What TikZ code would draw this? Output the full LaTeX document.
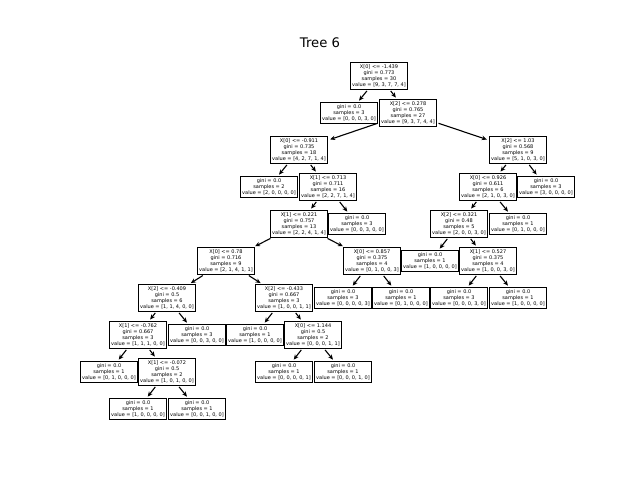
\documentclass[tikz,border=0pt]{standalone}
\usepackage{fontspec}
\setmainfont{DejaVu Sans}
\usetikzlibrary{arrows.meta}

\begin{document}
\begin{tikzpicture}[x=0.72pt, y=-0.72pt,
    split/.style={rectangle, draw=black, fill=white, line width=0.9pt, align=center, inner sep=1.3pt, font=\fontsize{3.6}{4.4}\selectfont},
    >={Stealth[length=3.6pt, width=3.2pt]}]
    \useasboundingbox (0, 0) rectangle (640, 480);
    \node[font=\fontsize{9.5}{11}\selectfont] (title) at (320, 43) {Tree 6};

    \node[split] (n0) at (379, 76) {X[0] <= -1.439\\gini = 0.773\\samples = 30\\value = [9, 3, 7, 7, 4]};
    \node[split] (n1) at (349, 113) {gini = 0.0\\samples = 3\\value = [0, 0, 0, 3, 0]};
    \node[split] (n2) at (408, 113) {X[2] <= 0.278\\gini = 0.765\\samples = 27\\value = [9, 3, 7, 4, 4]};
    \node[split] (n3) at (299, 150) {X[0] <= -0.911\\gini = 0.735\\samples = 18\\value = [4, 2, 7, 1, 4]};
    \node[split] (n4) at (269, 187) {gini = 0.0\\samples = 2\\value = [2, 0, 0, 0, 0]};
    \node[split] (n5) at (328, 187) {X[1] <= 0.713\\gini = 0.711\\samples = 16\\value = [2, 2, 7, 1, 4]};
    \node[split] (n6) at (299, 224) {X[1] <= 0.221\\gini = 0.757\\samples = 13\\value = [2, 2, 4, 1, 4]};
    \node[split] (n7) at (226, 261) {X[0] <= 0.78\\gini = 0.716\\samples = 9\\value = [2, 1, 4, 1, 1]};
    \node[split] (n8) at (167, 298) {X[2] <= -0.409\\gini = 0.5\\samples = 6\\value = [1, 1, 4, 0, 0]};
    \node[split] (n9) at (138, 335) {X[1] <= -0.762\\gini = 0.667\\samples = 3\\value = [1, 1, 1, 0, 0]};
    \node[split] (n10) at (109, 372) {gini = 0.0\\samples = 1\\value = [0, 1, 0, 0, 0]};
    \node[split] (n11) at (167, 372) {X[1] <= -0.072\\gini = 0.5\\samples = 2\\value = [1, 0, 1, 0, 0]};
    \node[split] (n12) at (138, 409) {gini = 0.0\\samples = 1\\value = [1, 0, 0, 0, 0]};
    \node[split] (n13) at (197, 409) {gini = 0.0\\samples = 1\\value = [0, 0, 1, 0, 0]};
    \node[split] (n14) at (197, 335) {gini = 0.0\\samples = 3\\value = [0, 0, 3, 0, 0]};
    \node[split] (n15) at (284, 298) {X[2] <= -0.433\\gini = 0.667\\samples = 3\\value = [1, 0, 0, 1, 1]};
    \node[split] (n16) at (255, 335) {gini = 0.0\\samples = 1\\value = [1, 0, 0, 0, 0]};
    \node[split] (n17) at (313, 335) {X[0] <= 1.144\\gini = 0.5\\samples = 2\\value = [0, 0, 0, 1, 1]};
    \node[split] (n18) at (284, 372) {gini = 0.0\\samples = 1\\value = [0, 0, 0, 0, 1]};
    \node[split] (n19) at (343, 372) {gini = 0.0\\samples = 1\\value = [0, 0, 0, 1, 0]};
    \node[split] (n20) at (372, 261) {X[0] <= 0.857\\gini = 0.375\\samples = 4\\value = [0, 1, 0, 0, 3]};
    \node[split] (n21) at (343, 298) {gini = 0.0\\samples = 3\\value = [0, 0, 0, 0, 3]};
    \node[split] (n22) at (401, 298) {gini = 0.0\\samples = 1\\value = [0, 1, 0, 0, 0]};
    \node[split] (n23) at (357, 224) {gini = 0.0\\samples = 3\\value = [0, 0, 3, 0, 0]};
    \node[split] (n24) at (518, 150) {X[2] <= 1.03\\gini = 0.568\\samples = 9\\value = [5, 1, 0, 3, 0]};
    \node[split] (n25) at (488, 187) {X[0] <= 0.926\\gini = 0.611\\samples = 6\\value = [2, 1, 0, 3, 0]};
    \node[split] (n26) at (459, 224) {X[2] <= 0.321\\gini = 0.48\\samples = 5\\value = [2, 0, 0, 3, 0]};
    \node[split] (n27) at (430, 261) {gini = 0.0\\samples = 1\\value = [1, 0, 0, 0, 0]};
    \node[split] (n28) at (488, 261) {X[1] <= 0.527\\gini = 0.375\\samples = 4\\value = [1, 0, 0, 3, 0]};
    \node[split] (n29) at (459, 298) {gini = 0.0\\samples = 3\\value = [0, 0, 0, 3, 0]};
    \node[split] (n30) at (518, 298) {gini = 0.0\\samples = 1\\value = [1, 0, 0, 0, 0]};
    \node[split] (n31) at (518, 224) {gini = 0.0\\samples = 1\\value = [0, 1, 0, 0, 0]};
    \node[split] (n32) at (546, 187) {gini = 0.0\\samples = 3\\value = [3, 0, 0, 0, 0]};

    \begin{scope}[line width=0.8pt, shorten >=1.5pt, shorten <=1pt]
    \draw[->] (n0) to (n1);
    \draw[->] (n0) to (n2);
    \draw[->] (n2) to (n3);
    \draw[->] (n3) to (n4);
    \draw[->] (n3) to (n5);
    \draw[->] (n5) to (n6);
    \draw[->] (n6) to (n7);
    \draw[->] (n7) to (n8);
    \draw[->] (n8) to (n9);
    \draw[->] (n9) to (n10);
    \draw[->] (n9) to (n11);
    \draw[->] (n11) to (n12);
    \draw[->] (n11) to (n13);
    \draw[->] (n8) to (n14);
    \draw[->] (n7) to (n15);
    \draw[->] (n15) to (n16);
    \draw[->] (n15) to (n17);
    \draw[->] (n17) to (n18);
    \draw[->] (n17) to (n19);
    \draw[->] (n6) to (n20);
    \draw[->] (n20) to (n21);
    \draw[->] (n20) to (n22);
    \draw[->] (n5) to (n23);
    \draw[->] (n2) to (n24);
    \draw[->] (n24) to (n25);
    \draw[->] (n25) to (n26);
    \draw[->] (n26) to (n27);
    \draw[->] (n26) to (n28);
    \draw[->] (n28) to (n29);
    \draw[->] (n28) to (n30);
    \draw[->] (n25) to (n31);
    \draw[->] (n24) to (n32);
    \end{scope}
\end{tikzpicture}
\end{document}
